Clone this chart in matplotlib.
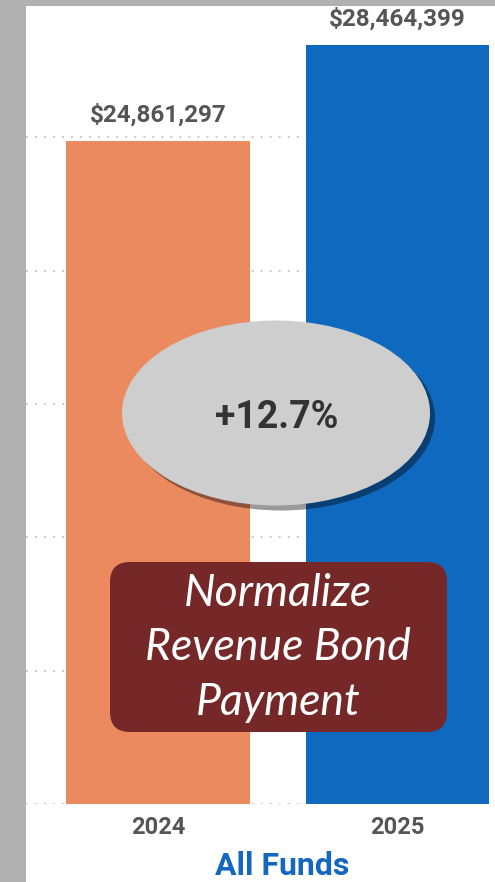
import matplotlib
matplotlib.use("Agg")
import matplotlib.pyplot as plt
from matplotlib.patches import Rectangle, Ellipse, FancyBboxPatch

years = ["2024", "2025"]
totals = [24861297, 28464399]
bar_colors = ["#EB8A5F", "#0F6ABF"]
change_label = "+12.7%"
note_label = "Normalize\nRevenue Bond\nPayment"
axis_title = "All Funds"

W, H = 495, 882
fig = plt.figure(figsize=(W / 100, H / 100), dpi=100)
fig.patch.set_facecolor("#b1b1b1")
# white panel inside the grey frame
fig.add_artist(Rectangle((26 / W, 0), 1 - 26 / W, 1 - 6 / H,
                         transform=fig.transFigure, facecolor="white",
                         edgecolor="none", zorder=0))

ax = fig.add_axes([26 / W, 78 / H, 469 / W, 800 / H])
ax.patch.set_alpha(0)
x = range(len(years))
ax.bar(x, totals, width=0.768, color=bar_colors, zorder=3)
ax.set_xlim(-0.551, 1.407)
ax.set_ylim(0, 30e6)
ax.set_yticks([0, 5e6, 10e6, 15e6, 20e6, 25e6])
ax.set_yticklabels([])
ax.tick_params(axis="y", length=0)
ax.tick_params(axis="x", length=0, pad=9)
ax.set_xticks(list(x))
ax.set_xticklabels(years, fontsize=17, fontweight="bold", color="#555555",
                   family="Roboto")
ax.yaxis.grid(True, linestyle=(0, (1, 4)), color="#c4c4c4", lw=1.3, zorder=1)
for s in ax.spines.values():
    s.set_visible(False)

for i, v in enumerate(totals):
    ax.annotate(f"${v:,}", (i, v), xytext=(0, 10), textcoords="offset points",
                ha="center", va="bottom", fontsize=17.5, fontweight="bold",
                color="#555555", family="Roboto")

# overlay in pixel coordinates for the callouts
ov = fig.add_axes([0, 0, 1, 1])
ov.set_xlim(0, W)
ov.set_ylim(H, 0)
ov.axis("off")
ov.patch.set_alpha(0)

ov.add_patch(Ellipse((281, 418), 308, 185, facecolor="black", alpha=0.4,
                     edgecolor="none"))
ov.add_patch(Ellipse((276, 413), 308, 185, facecolor="#cecece",
                     edgecolor="none"))
ov.text(277, 417, change_label, ha="center", va="center", fontsize=27,
        fontweight="bold", color="#333333", family="Roboto")

ov.add_patch(FancyBboxPatch((110, 562), 337, 170,
                            boxstyle="round,pad=0,rounding_size=20",
                            facecolor="#762828", edgecolor="none"))
ov.text(278, 648, note_label, ha="center", va="center", fontsize=32,
        style="italic", color="white", family="Lato", linespacing=1.4)

ov.text(282, 866, axis_title, ha="center", va="center", fontsize=23,
        fontweight="bold", color="#1467C0", family="Roboto")

fig.savefig("out.png", dpi=100)
